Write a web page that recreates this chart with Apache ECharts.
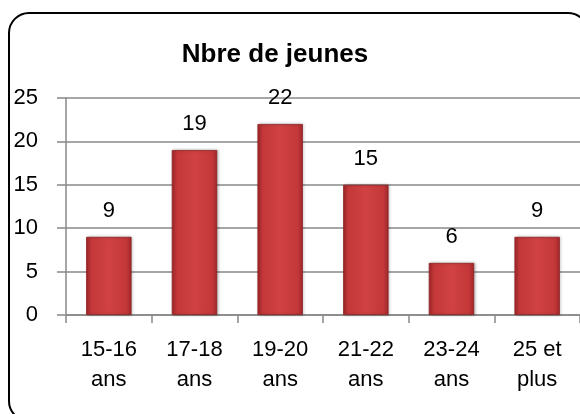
<!DOCTYPE html>
<html>
<head>
<meta charset="utf-8">
<script src="https://cdn.jsdelivr.net/npm/echarts@6/dist/echarts.min.js"></script>
<style>
  html, body { margin: 0; padding: 0; background: #fff; }
  #chart { width: 580px; height: 414px; }
</style>
</head>
<body>
<div id="chart"></div>
<script>
// categories and values
const categories = ['15-16\nans', '17-18\nans', '19-20\nans', '21-22\nans', '23-24\nans', '25 et\nplus']
const jeunes = [9, 19, 22, 15, 6, 9]
const yTicks = { min: 0, max: 25, interval: 5 }

const font = 'Liberation Sans'

let chart = echarts.init(document.getElementById('chart'), null, { renderer: 'canvas' })

const barColor = new echarts.graphic.LinearGradient(0, 0, 1, 0, [
    { offset: 0, color: '#a3282a' },
    { offset: 0.12, color: '#c4383a' },
    { offset: 0.5, color: '#d04244' },
    { offset: 0.88, color: '#c4383a' },
    { offset: 1, color: '#a3282a' }
])

let option = {
    animation: false,
    backgroundColor: '#fff',
    title: {
        text: 'Nbre de jeunes',
        left: 270,
        top: 37,
        textAlign: 'center',
        textStyle: { fontFamily: font, fontWeight: 'bold', fontSize: 26, color: '#000' }
    },
    graphic: [
        {
            type: 'rect',
            shape: { x: 9, y: 13, width: 579, height: 408, r: 20 },
            style: { fill: 'none', stroke: '#000', lineWidth: 2 },
            z: 100
        }
    ],
    grid: { left: 66, right: -8, top: 98, bottom: 99 },
    xAxis: {
        type: 'category',
        data: categories,
        axisLine: { lineStyle: { color: '#888', width: 1.5 } },
        axisTick: { show: true, length: 8, lineStyle: { color: '#888', width: 1.5 } },
        axisLabel: {
            fontFamily: font, fontSize: 22, color: '#000',
            margin: 20, lineHeight: 30
        }
    },
    yAxis: {
        type: 'value',
        min: yTicks.min,
        max: yTicks.max,
        interval: yTicks.interval,
        axisLine: { show: true, lineStyle: { color: '#888', width: 1.5 } },
        axisTick: { show: true, length: 9, lineStyle: { color: '#888', width: 1.5 } },
        splitLine: { lineStyle: { color: '#888', width: 1.5 } },
        axisLabel: { fontFamily: font, fontSize: 22, color: '#000', margin: 28 }
    },
    series: [
        {
            type: 'bar',
            data: jeunes,
            barWidth: '53%',
            itemStyle: {
                color: barColor,
                borderColor: '#8e2224',
                borderWidth: 0.8,
                shadowColor: 'rgba(0,0,0,0.25)',
                shadowBlur: 3,
                shadowOffsetX: 1
            },
            label: {
                show: true,
                position: 'top',
                distance: 15,
                fontFamily: font,
                fontSize: 22,
                color: '#000'
            }
        }
    ]
}

chart.setOption(option)
</script>
</body>
</html>
